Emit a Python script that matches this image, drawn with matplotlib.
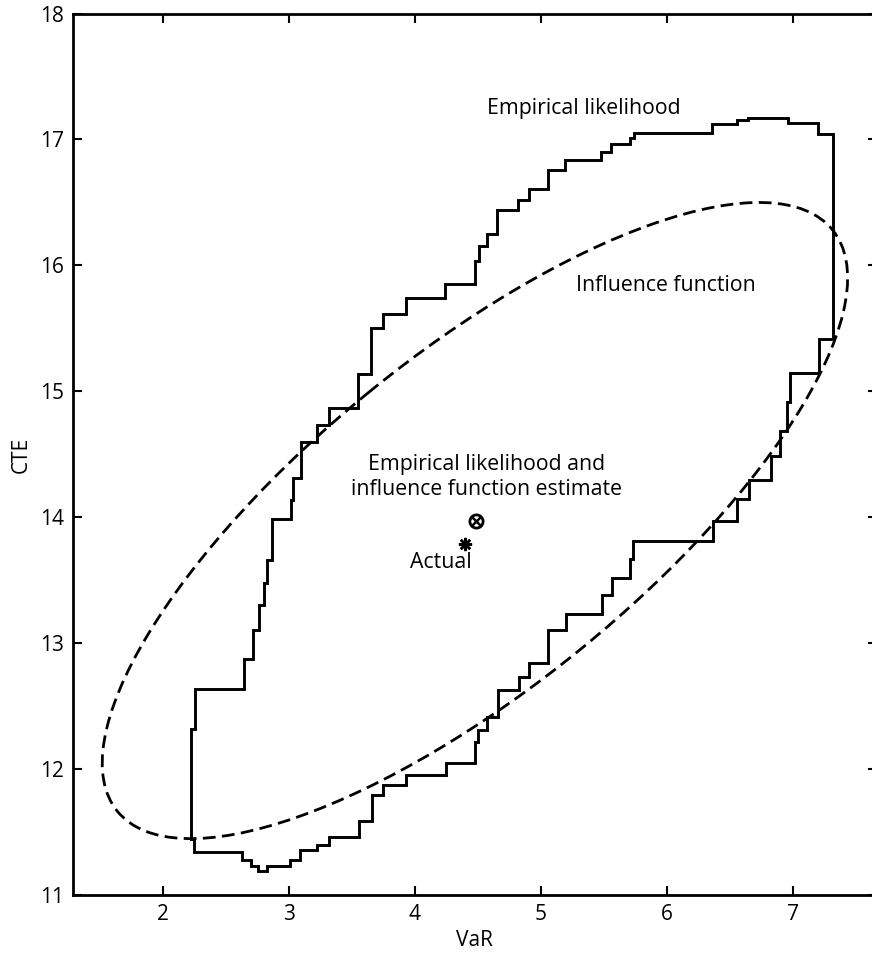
import numpy as np
import matplotlib.pyplot as plt
from matplotlib.patches import Ellipse

plt.rcParams['font.family'] = ['Open Sans', 'DejaVu Sans']

# empirical likelihood region, traced as a closed staircase:
# el_x[i] is the x of the i-th vertical step, which runs from el_y[i] to el_y[i+1]
el_x = [2.227, 2.254, 2.643, 2.717, 2.764, 2.80, 2.828, 2.865, 3.02, 3.034,
        3.10, 3.225, 3.317, 3.553, 3.651, 3.751, 3.927, 4.243, 4.479, 4.51,
        4.571, 4.656, 4.822, 4.91, 5.056, 5.193, 5.479, 5.558, 5.709, 5.74,
        6.36, 6.556, 6.648, 6.965, 7.203, 7.322, 7.207, 6.982, 6.955, 6.899,
        6.826, 6.654, 6.555, 6.365, 5.735, 5.709, 5.566, 5.487, 5.201, 5.055,
        4.91, 4.83, 4.664, 4.571, 4.505, 4.479, 4.248, 3.931, 3.751, 3.659,
        3.56, 3.32, 3.222, 3.09, 3.01, 2.825, 2.759, 2.698, 2.627, 2.248]
el_y = [11.45, 12.32, 12.635, 12.878, 13.104, 13.305, 13.479, 13.66, 13.99, 14.14,
        14.31, 14.595, 14.737, 14.87, 15.138, 15.50, 15.618, 15.743, 15.853, 16.038,
        16.155, 16.247, 16.437, 16.517, 16.604, 16.754, 16.834, 16.90, 16.965, 17.013,
        17.055, 17.122, 17.158, 17.171, 17.13, 17.044, 15.415, 15.147, 14.913, 14.682,
        14.49, 14.30, 14.145, 13.97, 13.81, 13.672, 13.521, 13.381, 13.236, 13.104,
        12.845, 12.734, 12.628, 12.417, 12.311, 12.219, 12.047, 11.955, 11.876, 11.796,
        11.593, 11.46, 11.40, 11.36, 11.281, 11.234, 11.197, 11.234, 11.281, 11.34,
        11.45]

# influence function confidence ellipse (centre and covariance)
if_centre = (4.478, 13.975)
if_cov = [[8.75, 5.694],
          [5.694, 6.376]]

estimate = (4.487, 13.97)
actual = (4.40, 13.79)

xs = np.append(np.repeat(el_x, 2), el_x[0])
ys = np.append(np.repeat(el_y, 2)[1:-1], el_y[-1])

vals, vecs = np.linalg.eigh(np.array(if_cov))
ell_w = 2 * np.sqrt(vals[1])
ell_h = 2 * np.sqrt(vals[0])
ell_ang = np.degrees(np.arctan2(vecs[1, 1], vecs[0, 1]))

fig = plt.figure(figsize=(8.72, 9.59), dpi=100)
ax = fig.add_axes([0.0834, 0.0664, 0.9223, 0.9195])

ax.plot(xs, ys, color='black', lw=2.1, solid_joinstyle='miter')
ax.add_patch(Ellipse(if_centre, ell_w, ell_h, angle=ell_ang, fill=False,
                     edgecolor='black', lw=2.0, linestyle=(0, (4.6, 2.3))))

ax.plot(*estimate, marker='o', ms=9.5, mfc='none', mec='black', mew=2.0)
ax.plot(*estimate, marker='x', ms=6, mec='black', mew=1.8)
ax.plot(*actual, marker=(8, 2, 0), ms=9.5, mec='black', mew=1.8)

ax.text(5.34, 17.25, 'Empirical likelihood', ha='center', va='center', fontsize=15.3)
ax.text(5.99, 15.84, 'Influence function', ha='center', va='center', fontsize=15.3)
ax.text(4.57, 14.32, 'Empirical likelihood and\ninfluence function estimate',
        ha='center', va='center', fontsize=15.3, linespacing=1.25)
ax.text(4.205, 13.645, 'Actual', ha='center', va='center', fontsize=15.3)

ax.set_xlim(1.2857, 7.669)
ax.set_ylim(11, 18)
ax.set_xticks([2, 3, 4, 5, 6, 7])
ax.set_yticks([11, 12, 13, 14, 15, 16, 17, 18])
ax.tick_params(direction='in', length=6.5, width=1.5, labelsize=15,
               top=True, right=True, pad=6)
for s in ax.spines.values():
    s.set_linewidth(2)
ax.set_xlabel('VaR', fontsize=15, labelpad=4)
ax.set_ylabel('CTE', fontsize=15, labelpad=6)

fig.savefig('out.png', dpi=100)
